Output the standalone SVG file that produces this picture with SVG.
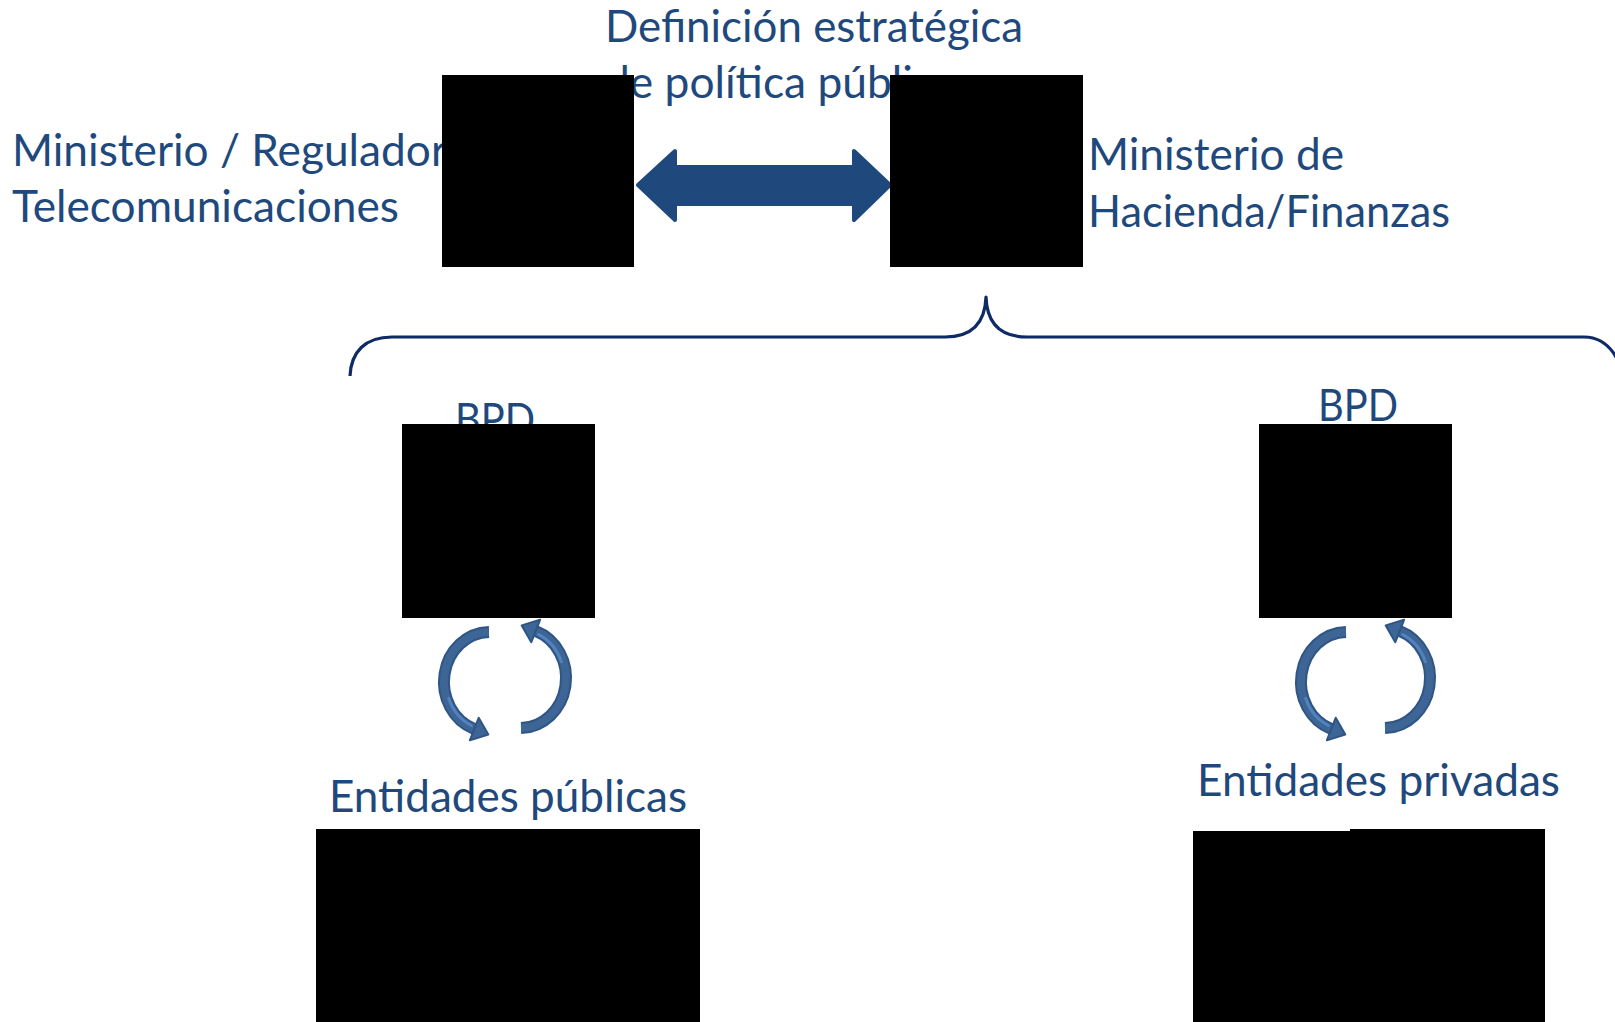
<svg xmlns="http://www.w3.org/2000/svg" xmlns:xlink="http://www.w3.org/1999/xlink" width="1615" height="1022" viewBox="0 0 1615 1022">
<style>
.t{font-family:Lato,"Liberation Sans",sans-serif;font-size:44px;fill:#1f497d}
.box{fill:#000}
.brace{fill:none;stroke:#0f2b66;stroke-width:3.2;stroke-linejoin:round}
.dbl{fill:#1f497d;stroke:#1f497d;stroke-width:4;stroke-linejoin:round}
.cycO{fill:none;stroke:#2f5583;stroke-width:12}
.cycI{fill:none;stroke:#3d6596;stroke-width:8}
.cycH{fill:none;stroke:#5283bf;stroke-width:3;stroke-linecap:round}
.cycHead{fill:#3d6596;stroke:#2f5583;stroke-width:2;stroke-linejoin:round}
</style>
<defs>
<g id="cyc">
<path class="cycO" d="M489,632 A46,50 0 0 0 474.3,729"/>
<path class="cycI" d="M489,632 A46,50 0 0 0 474.3,729"/>
<path class="cycH" d="M448.7,698.4 A44,48 0 0 0 471.4,725.5"/>
<polygon class="cycHead" points="469.9,740.2 488.3,734.6 478.7,717.8"/>
</g>
</defs>
<rect width="1615" height="1022" fill="#fff"/>

<g id="label-definicion">
<text class="t" x="605" y="42" textLength="418" lengthAdjust="spacingAndGlyphs">Definición estratégica</text>
<text class="t" x="605" y="98" textLength="351" lengthAdjust="spacingAndGlyphs">de política pública</text>
</g>
<g id="label-ministerio-regulador">
<text class="t" x="12" y="166" textLength="435" lengthAdjust="spacingAndGlyphs">Ministerio / Regulador</text>
<text class="t" x="12" y="222" textLength="387" lengthAdjust="spacingAndGlyphs">Telecomunicaciones</text>
</g>
<g id="label-hacienda">
<text class="t" x="1088" y="170" textLength="256" lengthAdjust="spacingAndGlyphs">Ministerio de</text>
<text class="t" x="1088" y="227" textLength="362" lengthAdjust="spacingAndGlyphs">Hacienda/Finanzas</text>
</g>
<g id="label-bpd-left">
<text class="t" x="455" y="435" textLength="80" lengthAdjust="spacingAndGlyphs">BPD</text>
</g>
<g id="label-bpd-right">
<text class="t" x="1318" y="421" textLength="80" lengthAdjust="spacingAndGlyphs">BPD</text>
</g>
<g id="label-entidades-publicas">
<text class="t" x="329" y="812" textLength="358" lengthAdjust="spacingAndGlyphs">Entidades públicas</text>
</g>
<g id="label-entidades-privadas">
<text class="t" x="1197" y="796" textLength="363" lengthAdjust="spacingAndGlyphs">Entidades privadas</text>
</g>

<g id="connectors">
<polygon class="dbl" points="638,185 675,151 675,167 854,167 854,151 890,185 854,220 854,204 675,204 675,220"/>
<path class="brace" d="M350,376 C351,352 365,337 392,337 L945,337 C970,337 985,325 986,297 C987,325 1002,337 1027,337 L1584,337 C1600,337 1612,346 1620,365"/>
<use xlink:href="#cyc"/>
<use xlink:href="#cyc" transform="rotate(180 505 680)"/>
<use xlink:href="#cyc" transform="translate(857 0)"/>
<use xlink:href="#cyc" transform="translate(864 0) rotate(180 505 680)"/>
</g>

<g id="node-ministerio-regulador"><rect class="box" x="442" y="75" width="192" height="192"/></g>
<g id="node-hacienda"><rect class="box" x="890" y="75" width="193" height="192"/></g>
<g id="node-bpd-left"><rect class="box" x="402" y="424" width="193" height="194"/></g>
<g id="node-bpd-right"><rect class="box" x="1259" y="424" width="193" height="194"/></g>
<g id="node-entidades-publicas"><rect class="box" x="316" y="829" width="384" height="193"/></g>
<g id="node-entidades-privadas">
<rect class="box" x="1193" y="831" width="160" height="191"/>
<rect class="box" x="1350" y="829" width="195" height="193"/>
</g>
</svg>
